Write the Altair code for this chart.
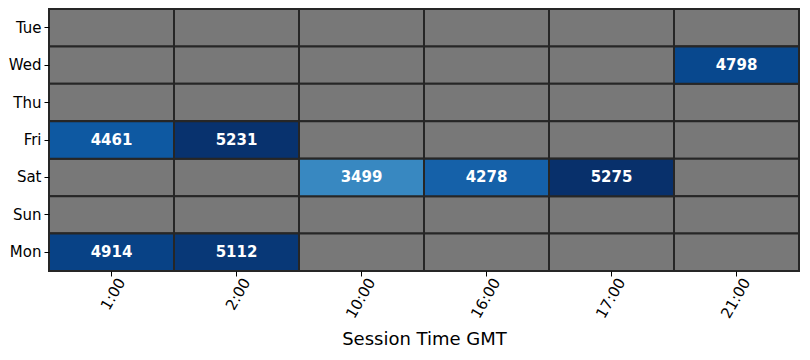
import altair as alt
import numpy as np
import pandas as pd

days = ["Tue", "Wed", "Thu", "Fri", "Sat", "Sun", "Mon"]
times = ["1:00", "2:00", "10:00", "16:00", "17:00", "21:00"]
cell_day = ["Wed", "Fri", "Fri", "Sat", "Sat", "Sat", "Mon", "Mon"]
cell_time = ["21:00", "1:00", "2:00", "10:00", "16:00", "17:00", "1:00", "2:00"]
cell_value = [4798, 4461, 5231, 3499, 4278, 5275, 4914, 5112]

blues = ["#f7fbff", "#deebf7", "#c6dbef", "#9ecae1", "#6baed6",
         "#4292c6", "#2171b5", "#08519c", "#08306b"]

grid = pd.DataFrame([(d, t) for d in days for t in times], columns=["day", "time"])
vals = pd.DataFrame({"day": cell_day, "time": cell_time, "value": cell_value})

font = "DejaVu Sans"

x = alt.X("time:N", sort=times, title="Session Time GMT",
          scale=alt.Scale(paddingInner=0, paddingOuter=0),
          axis=alt.Axis(labelAngle=-60, labelAlign="right", labelBaseline="middle",
                        labelOffset=10, labelPadding=3, tickSize=5, titlePadding=10))
y = alt.Y("day:N", sort=days, title=None,
          scale=alt.Scale(paddingInner=0, paddingOuter=0),
          axis=alt.Axis(tickSize=5, labelPadding=3))

gray = alt.Chart(grid).mark_rect(color="#787878", stroke="#262626", strokeWidth=2).encode(x=x, y=y)

dmax = max(cell_value)
stops = list(np.linspace(0, dmax, len(blues)))
colored = alt.Chart(vals).mark_rect(stroke="#262626", strokeWidth=2).encode(
    x=x, y=y,
    color=alt.Color("value:Q", legend=None,
                    scale=alt.Scale(domain=stops, range=blues, interpolate="rgb")))

labels = alt.Chart(vals).mark_text(color="white", fontWeight="bold", fontSize=15, font=font).encode(
    x=x, y=y, text="value:Q")

chart = alt.layer(gray, colored, labels).properties(
    width=750, height=262, padding={"left": 0, "top": 0, "right": 0, "bottom": 0}
).configure_view(stroke=None).configure_axis(
    domain=False, labelFont=font, titleFont=font, labelFontSize=15, titleFontSize=18,
    titleFontWeight="normal", labelColor="#000000", titleColor="#000000",
    tickColor="#000000", tickWidth=1
)

chart.save("out.html", embed_options={"renderer": "svg", "actions": False})
